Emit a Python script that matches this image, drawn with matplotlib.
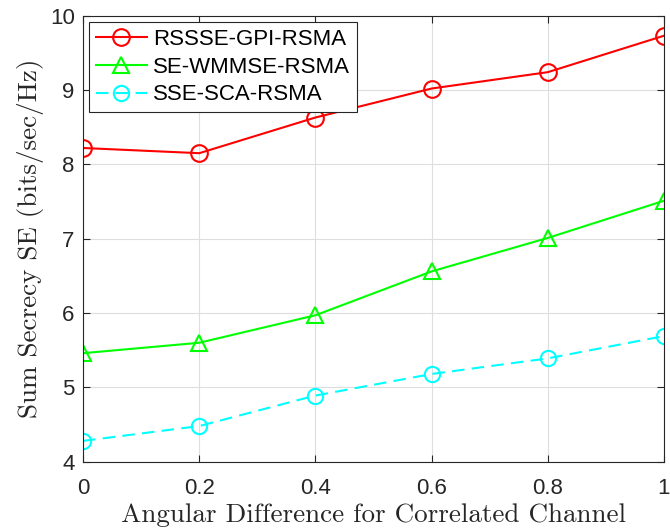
import matplotlib
matplotlib.use("Agg")
import matplotlib.pyplot as plt

x_values = [0, 0.2, 0.4, 0.6, 0.8, 1.0]
rssse_gpi = [8.22, 8.15, 8.63, 9.02, 9.24, 9.73]
se_wmmse = [5.46, 5.60, 5.97, 6.56, 7.01, 7.51]
sse_sca = [4.28, 4.48, 4.89, 5.18, 5.39, 5.69]
labels = ["RSSSE-GPI-RSMA", "SE-WMMSE-RSMA", "SSE-SCA-RSMA"]
xticks = [0, 0.2, 0.4, 0.6, 0.8, 1]
xtick_labels = ["0", "0.2", "0.4", "0.6", "0.8", "1"]
yticks = [4, 5, 6, 7, 8, 9, 10]

plt.rcParams["font.family"] = "Liberation Sans"
plt.rcParams["font.size"] = 16

fig = plt.figure(figsize=(6.7, 5.31), dpi=100)
ax = fig.add_axes([0.124, 0.1305, 0.867, 0.84])

ax.plot(x_values, rssse_gpi, color=(1, 0, 0), lw=1.5, marker="o", ms=12,
        mfc="none", mew=1.5, label=labels[0])
ax.plot(x_values, se_wmmse, color=(0, 1, 0), lw=1.5, marker="^", ms=12,
        mfc="none", mew=1.5, label=labels[1])
ax.plot(x_values, sse_sca, color=(0, 1, 1), lw=1.5, marker="o", ms=11,
        mfc="none", mew=1.5, dashes=(6, 3.5), label=labels[2])

ax.set_xlim(0, 1)
ax.set_ylim(4, 10)
ax.set_xticks(xticks)
ax.set_xticklabels(xtick_labels)
ax.set_yticks(yticks)
ax.grid(True, color="#dedede", lw=0.8)
ax.set_axisbelow(True)
ax.tick_params(direction="in", top=True, right=True, length=5, width=0.8,
               colors="#262626", labelcolor="#262626")
ax.tick_params(axis="x", pad=12)
ax.tick_params(axis="y", pad=6)
for s in ax.spines.values():
    s.set_color("#262626")
    s.set_linewidth(0.8)

ax.set_xlabel("Angular Difference for Correlated Channel", fontfamily="cmr10",
              fontsize=19.5, color="#262626", labelpad=3)
ax.set_ylabel("Sum Secrecy SE (bits/sec/Hz)", fontfamily="cmr10",
              fontsize=19.5, color="#262626", labelpad=4)

leg = ax.legend(loc="upper left", bbox_to_anchor=(0.01, 0.985), fontsize=16,
                fancybox=False, edgecolor="#262626", framealpha=1,
                handlelength=2.3, handletextpad=0.3, borderpad=0.3,
                labelspacing=0.3, borderaxespad=0)
leg.get_frame().set_linewidth(0.8)

fig.savefig("out.png", dpi=100)
